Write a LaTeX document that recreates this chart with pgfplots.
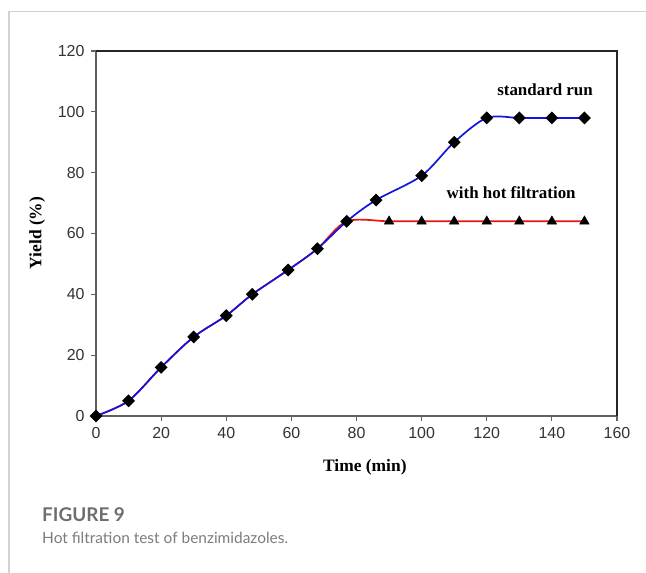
\documentclass[border=0pt]{standalone}
\usepackage{fontspec}
\setmainfont{Liberation Serif}
\newfontfamily\arialf{Liberation Sans}
\newfontfamily\capf{Lato}
\usepackage{pgfplots}
\pgfplotsset{compat=1.18}
\definecolor{runblue}{RGB}{20,20,220}
\definecolor{filtred}{RGB}{230,20,20}
\definecolor{capgray}{RGB}{110,110,110}

\pgfplotstableread{
t   y
0   0
10  5
20  16
30  26
40  33
48  40
59  48
68  55
77  64
86  71
100 79
110 90
120 98
130 98
140 98
150 98
}\standard

\pgfplotstableread{
t   y
0   0
10  5
20  16
30  26
40  33
48  40
59  48
68  55
77  64
90  64
100 64
110 64
120 64
130 64
140 64
150 64
}\hotfilt

\pgfplotstableread{
t   y
90  64
100 64
110 64
120 64
130 64
140 64
150 64
}\hotmarks

\begin{document}
\begin{tikzpicture}[x=1bp,y=1bp]
\path[use as bounding box] (0,0) rectangle (646,573);
\draw[gray!35, line width=1.2bp] (9,0) -- (9,561.5) -- (646,561.5);

\begin{axis}[
  name=ax,
  at={(96bp,157bp)}, anchor=south west,
  scale only axis, width=521bp, height=365bp,
  xmin=0, xmax=160, ymin=0, ymax=120,
  xtick={0,20,...,160}, ytick={0,20,...,120},
  tick align=outside, tick pos=left,
  major tick length=5bp,
  axis line style={draw=gray!75!black, line width=1.3bp},
  tick style={draw=gray!75!black, line width=1.1bp},
  /pgf/number format/assume math mode=true,
  tick label style={font=\arialf\fontsize{16}{18}\selectfont, text=black!80},
  xticklabel style={yshift=-3bp},
  yticklabel style={xshift=-3bp},
  xlabel={\bfseries Time (min)},
  ylabel={\bfseries Yield (\%)},
  label style={font=\fontsize{17.5}{20}\selectfont},
  xlabel style={at={(axis description cs:0.516,-0.14)}, anchor=center},
  ylabel style={at={(axis description cs:-0.113,0.501)}, anchor=center},
  clip=false,
]
\addplot[filtred, line width=1.7bp, smooth, no markers] table[x=t,y=y] {\hotfilt};
\addplot[only marks, mark=triangle*, mark size=5.5bp, black] table[x=t,y=y] {\hotmarks};
\addplot[runblue, line width=1.7bp, smooth, mark=square*, mark size=3.7bp,
  mark options={black, fill=black, rotate=45}] table[x=t,y=y] {\standard};

\node[font=\bfseries\fontsize{17}{19}\selectfont] at (axis cs:137.9,107.2) {standard run};
\node[font=\bfseries\fontsize{17}{19}\selectfont] at (axis cs:127.5,73.6) {with hot filtration};
\end{axis}
\draw[black!85, line width=1.3bp] (ax.north west) -- (ax.north east) -- (ax.south east);

\node[anchor=base west, inner sep=0, text=capgray, font=\capf\bfseries\fontsize{19}{22}\selectfont] at (42,51) {FIGURE 9};
\node[anchor=base west, inner sep=0, text=capgray!90, font=\capf\fontsize{15.5}{20}\selectfont] at (42,29) {Hot filtration test of benzimidazoles.};
\end{tikzpicture}
\end{document}
